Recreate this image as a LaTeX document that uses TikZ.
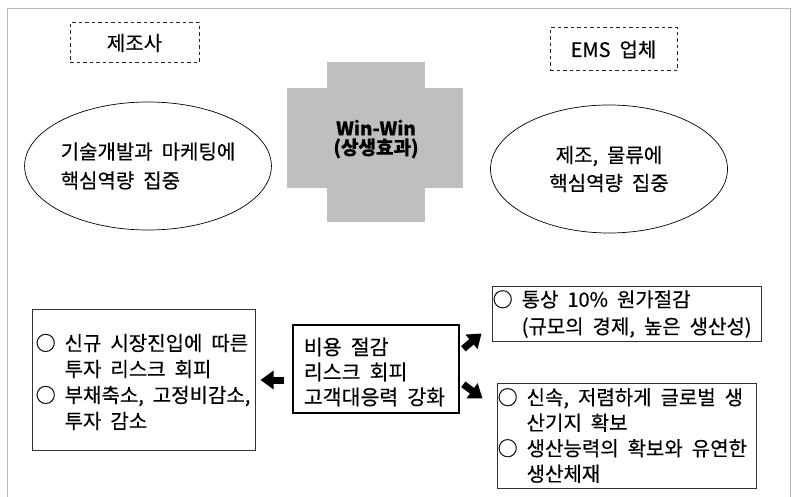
\documentclass[tikz,border=0pt]{standalone}
\usepackage{fontspec}
\setmainfont{Noto Sans CJK KR}[WordSpace=2.0, FakeBold=0.35]
\usetikzlibrary{arrows.meta,calc,shapes.geometric}
\newcommand\obul{○\ }
\tikzset{
  txt/.style={font=\fontsize{20bp}{26bp}\selectfont, align=left, inner sep=0pt},
  hdr/.style={draw=black!85, dash pattern=on 3.5bp off 3bp, line width=1bp, font=\fontsize{20bp}{24bp}\selectfont, inner sep=0pt},
  oval/.style={ellipse, draw, line width=0.7bp, inner sep=0pt},
  infobox/.style={draw=black!80, line width=1bp, inner sep=0pt},
  midbox/.style={draw, line width=2.6bp, inner sep=0pt},
  crossfill/.style={fill=gray!50},
  bigarrow/.style={line width=7bp, -{Triangle[length=13bp,width=18bp]}},
  framecol/.style={draw=gray!55, line width=0.6bp}
}
\begin{document}
\begin{tikzpicture}[x=1bp,y=-1bp]
\useasboundingbox (0,0) rectangle (795,497);
\fill[white] (0,0) rectangle (795,497);
% outer frame
\draw[framecol] (7,497) -- (7,8) -- (790,8) -- (790,497);
% headers
\node[hdr, minimum width=129bp, minimum height=40bp] (maker) at (134.5,43) {제조사};
\node[hdr, minimum width=127bp, minimum height=43bp] (ems) at (613.5,49.5) {EMS 업체};
% ellipses
\node[oval, minimum width=230bp, minimum height=128bp, font=\fontsize{20bp}{29bp}\selectfont, align=left] (lov) at (148,166) {기술개발과 마케팅에\\핵심역량 집중};
\node[oval, minimum width=237bp, minimum height=128bp, font=\fontsize{20bp}{28bp}\selectfont, align=center] (rov) at (609,169) {제조, 물류에\\핵심역량 집중};
% cross
\fill[crossfill] (327,62) rectangle (425,222);
\fill[crossfill] (287,88) rectangle (463,188);
\node[font=\bfseries\fontsize{19bp}{19bp}\selectfont, align=center, inner sep=0pt] (win) at (376,139) {Win-Win\\(상생효과)};
% lower boxes
\node[infobox, minimum width=222bp, minimum height=140bp] (lbox) at (144,380) {};
\node[txt, anchor=west] (ltxt) at ($(lbox.west)+(3,2)$) {\obul 신규 시장진입에 따른\\\phantom{\obul}투자 리스크 회피\\\obul 부채축소, 고정비감소,\\\phantom{\obul}투자 감소};
\node[midbox, minimum width=166bp, minimum height=88bp] (mid) at (376,369) {};
\node[txt, anchor=west, font=\fontsize{20.5bp}{25bp}\selectfont] (mtxt) at ($(mid.west)+(12,3)$) {비용 절감\\리스크 회피\\고객대응력 강화};
\node[infobox, minimum width=269bp, minimum height=54bp] (trbox) at (626.5,314) {};
\node[txt, anchor=west, font=\fontsize{20bp}{27bp}\selectfont] (trtxt) at ($(trbox.west)+(1,0)$) {\obul 통상 10\% 원가절감\\\phantom{\obul}(규모의 경제, 높은 생산성)};
\node[infobox, minimum width=259bp, minimum height=105bp] (brbox) at (626.5,435.5) {};
\node[txt, anchor=west, font=\fontsize{20bp}{25.5bp}\selectfont] (brtxt) at ($(brbox.west)+(1,0)$) {\obul 신속, 저렴하게 글로벌 생\\\phantom{\obul}산기지 확보\\\obul 생산능력의 확보와 유연한\\\phantom{\obul}생산체재};
% arrows
\draw[bigarrow, shorten <=8bp, shorten >=5bp] (mid.west |- lbox.center) -- (lbox.east);
\draw[bigarrow] ($(mid.north east)+(3,25)$) -- ($(trbox.south west)+(-10,-8)$);
\draw[bigarrow] ($(mid.south east)+(3,-30)$) -- ($(brbox.north west)+(-14,16)$);
\end{tikzpicture}
\end{document}
